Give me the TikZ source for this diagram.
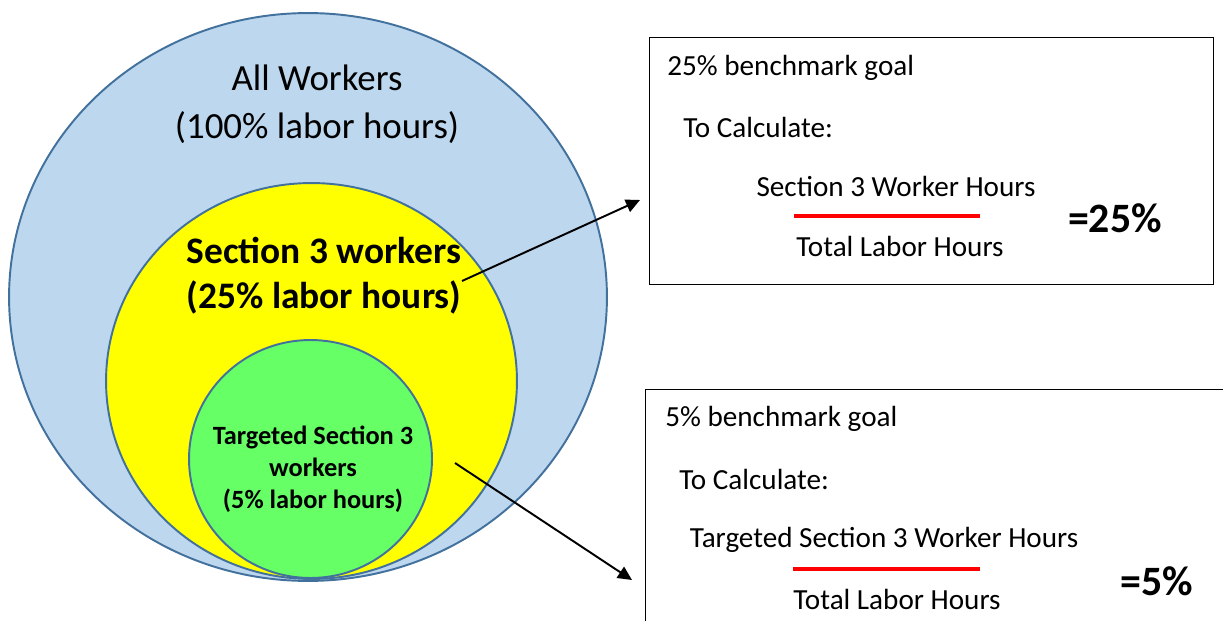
\documentclass[tikz,border=0pt]{standalone}
\usepackage{fontspec}
\setmainfont{Carlito}
\usetikzlibrary{arrows.meta,shapes.geometric}

\definecolor{poolblue}{RGB}{189,215,238}
\definecolor{rimblue}{RGB}{65,113,156}
\definecolor{sectyellow}{RGB}{255,255,0}
\definecolor{targgreen}{RGB}{102,255,102}

\tikzset{
	pool/.style={ellipse,draw=rimblue,line width=1.1pt,inner sep=0pt},
	bigtext/.style={align=center,font=\fontsize{21}{27.2}\selectfont},
	boldtext/.style={align=center,font=\fontsize{21.3}{25.5}\selectfont\bfseries},
	smalltext/.style={align=center,font=\fontsize{15}{18.1}\selectfont\bfseries},
	goalbox/.style={draw,line width=0.75pt,anchor=north west,inner sep=0pt},
	boxtext/.style={font=\fontsize{16.6}{20}\selectfont,inner sep=0pt},
	result/.style={font=\fontsize{23.8}{28}\selectfont\bfseries,inner sep=0pt},
	fracline/.style={red,line width=2.3pt},
	pointer/.style={-{Triangle[length=8pt,width=7.5pt]},line width=1.1pt}
}

\begin{document}
\begin{tikzpicture}[x=0.02cm,y=-0.02cm]
	\useasboundingbox (0,0) rectangle (1223,621);

	\node[pool,fill=poolblue,minimum width=11.96cm,minimum height=11.36cm] (all) at (308,297) {};
	\node[pool,fill=sectyellow,minimum width=8.22cm,minimum height=7.92cm] (sect) at (311.5,381) {};
	\node[pool,fill=targgreen,minimum width=4.86cm,minimum height=4.76cm] (targ) at (310.5,459) {};

	\node[bigtext] (alltext) at (317,104) {All Workers\\(100\% labor hours)};
	\node[boldtext] (secttext) at (324,276) {Section 3 workers\\(25\% labor hours)};
	\node[smalltext] (targtext) at (313,469) {Targeted Section 3\\workers\\(5\% labor hours)};

	\node[goalbox,minimum width=11.28cm,minimum height=4.94cm] (box1) at (649,37) {};
	\node[boxtext,anchor=west] (goal1) at (667,68) {25\% benchmark goal};
	\node[boxtext,anchor=west] (calc1) at (683,127) {To Calculate:};
	\node[boxtext] (num1) at (896,186) {Section 3 Worker Hours};
	\node[boxtext] (den1) at (900,246) {Total Labor Hours};
	\node[result] (res1) at (1115,218) {=25\%};
	\draw[fracline] (794,216) -- (980,216);

	\node[goalbox,minimum width=12cm,minimum height=5cm] (box2) at (645,389) {};
	\node[boxtext,anchor=west] (goal2) at (665,419) {5\% benchmark goal};
	\node[boxtext,anchor=west] (calc2) at (679,479) {To Calculate:};
	\node[boxtext] (num2) at (884,540) {Targeted Section 3 Worker Hours};
	\node[boxtext] (den2) at (897,599) {Total Labor Hours};
	\node[result] (res2) at (1157,581) {=5\%};
	\draw[fracline] (793,569) -- (980,569);

	\coordinate (from1) at (462,281);
	\coordinate (to1) at (640,200);
	\coordinate (from2) at (455,463);
	\coordinate (to2) at (632,580);
	\draw[pointer] (from1) -- (to1);
	\draw[pointer] (from2) -- (to2);
\end{tikzpicture}
\end{document}
